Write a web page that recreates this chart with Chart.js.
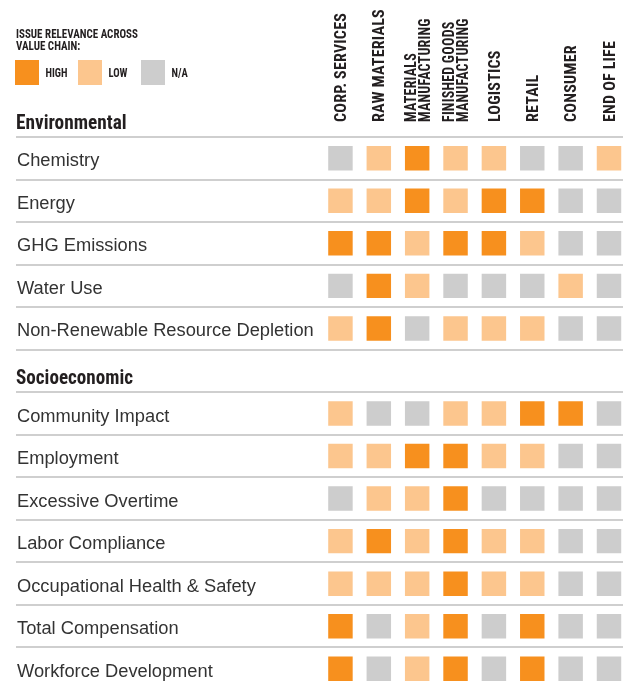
<!DOCTYPE html>
<html>
<head>
<meta charset="utf-8">
<script src="https://cdn.jsdelivr.net/npm/chart.js@4.4.0/dist/chart.umd.min.js"></script>
<style>
  html, body { margin: 0; padding: 0; background: #fff; overflow: hidden; }
  #wrap { position: relative; width: 623px; height: 702px; }
</style>
</head>
<body>
<div id="wrap">
  <canvas id="matrix" width="623" height="702"></canvas>
</div>
<script>
// value chain stages (columns), two-line labels as arrays
const columns = ['CORP. SERVICES', 'RAW MATERIALS', ['MATERIALS', 'MANUFACTURING'], ['FINISHED GOODS', 'MANUFACTURING'], 'LOGISTICS', 'RETAIL', 'CONSUMER', 'END OF LIFE'];

// issues (rows); the socioeconomic header takes a row of its own
const rows = ['Chemistry', 'Energy', 'GHG Emissions', 'Water Use', 'Non-Renewable Resource Depletion', 'Socioeconomic', 'Community Impact', 'Employment', 'Excessive Overtime', 'Labor Compliance', 'Occupational Health & Safety', 'Total Compensation', 'Workforce Development'];
const topSection = 'Environmental';
const headerRow = 'Socioeconomic';

// relevance per stage: H = high, L = low, N = n/a
const chemistry = ['N', 'L', 'H', 'L', 'L', 'N', 'N', 'L'];
const energy = ['L', 'L', 'H', 'L', 'H', 'H', 'N', 'N'];
const ghgEmissions = ['H', 'H', 'L', 'H', 'H', 'L', 'N', 'N'];
const waterUse = ['N', 'H', 'L', 'N', 'N', 'N', 'L', 'N'];
const resourceDepletion = ['L', 'H', 'N', 'L', 'L', 'L', 'N', 'N'];
const communityImpact = ['L', 'N', 'N', 'L', 'L', 'H', 'H', 'N'];
const employment = ['L', 'L', 'H', 'H', 'L', 'L', 'N', 'N'];
const excessiveOvertime = ['N', 'L', 'L', 'H', 'N', 'N', 'N', 'N'];
const laborCompliance = ['L', 'H', 'L', 'H', 'L', 'L', 'N', 'N'];
const healthSafety = ['L', 'L', 'L', 'H', 'L', 'L', 'N', 'N'];
const totalCompensation = ['H', 'N', 'L', 'H', 'N', 'H', 'N', 'N'];
const workforceDevelopment = ['H', 'N', 'L', 'H', 'N', 'H', 'N', 'N'];

const rowValues = {
  'Chemistry': chemistry,
  'Energy': energy,
  'GHG Emissions': ghgEmissions,
  'Water Use': waterUse,
  'Non-Renewable Resource Depletion': resourceDepletion,
  'Community Impact': communityImpact,
  'Employment': employment,
  'Excessive Overtime': excessiveOvertime,
  'Labor Compliance': laborCompliance,
  'Occupational Health & Safety': healthSafety,
  'Total Compensation': totalCompensation,
  'Workforce Development': workforceDevelopment
};

const levels = ['H', 'L', 'N'];
const levelNames = ['HIGH', 'LOW', 'N/A'];
const levelColors = ['#f7901e', '#fcc68e', '#cdcdcd'];
const keyTitle = ['ISSUE RELEVANCE ACROSS', 'VALUE CHAIN:'];

const NARROW = '"Roboto Condensed", "Liberation Sans", sans-serif';
const REGULAR = '"Liberation Sans", Arial, sans-serif';
const INK = '#231f20';

function pointsFor(level) {
  let pts = [];
  rows.forEach(r => {
    let vals = rowValues[r];
    if (!vals) return;
    vals.forEach((v, c) => {
      if (v === level) pts.push({ x: c, y: r });
    });
  });
  return pts;
}

const datasets = levels.map((lv, i) => ({
  label: levelNames[i],
  data: pointsFor(lv),
  backgroundColor: levelColors[i],
  borderWidth: 0,
  pointStyle: 'rect',
  pointRadius: 17.3,
  pointHoverRadius: 17.3
}));

// squeezed bold text, the original uses a condensed gothic
function narrowText(ctx, text, x, y, size, squeeze) {
  ctx.save();
  ctx.font = 'bold ' + size + 'px ' + NARROW;
  ctx.translate(x, y);
  ctx.scale(squeeze, 1);
  ctx.fillText(text, 0, 0);
  ctx.restore();
}

const matrixLabels = {
  id: 'matrixLabels',
  afterDraw(chart) {
    const { ctx } = chart;
    const x = chart.scales.x, y = chart.scales.y;
    const slot = y.height / rows.length;
    ctx.save();
    ctx.fillStyle = INK;
    ctx.textBaseline = 'alphabetic';
    ctx.textAlign = 'left';

    // stage names, vertical, reading upwards
    const size = 16;
    ctx.font = 'bold ' + size + 'px ' + NARROW;
    ctx.letterSpacing = '0.2px';
    columns.forEach((label, i) => {
      const lines = [].concat(label);
      const cx = x.getPixelForValue(i);
      const squeeze = lines.length > 1 ? 0.88 : 1;
      lines.forEach((line, k) => {
        ctx.save();
        ctx.translate(cx + (k - (lines.length - 1) / 2) * 13.5, y.top - 15);
        ctx.rotate(-Math.PI / 2);
        ctx.scale(squeeze, 1);
        ctx.fillText(line, 0, size * 0.711 / 2);
        ctx.restore();
      });
    });
    ctx.letterSpacing = '0px';

    // section headers sit just above their rule
    narrowText(ctx, topSection, 16, y.top - 8, 21, 0.92);
    const h = rows.indexOf(headerRow);
    narrowText(ctx, headerRow, 16, y.getPixelForValue(h) + slot / 2 - 8, 21, 0.91);

    // key
    keyTitle.forEach((t, k) => narrowText(ctx, t, 16, 37.5 + k * 12, 12.5, 0.88));
    levelNames.forEach((name, i) => {
      ctx.fillStyle = levelColors[i];
      ctx.fillRect(15 + i * 63, 60, 24, 25);
      ctx.fillStyle = INK;
      narrowText(ctx, name, 45.5 + i * 63, 77, 12, 0.88);
    });
    ctx.restore();
  }
};

let ctx = document.getElementById('matrix').getContext('2d');
let chart = new Chart(ctx, {
  type: 'scatter',
  data: { datasets: datasets },
  options: {
    responsive: false,
    animation: false,
    layout: { autoPadding: false, padding: { left: 14, right: 0, top: 0, bottom: 0 } },
    plugins: { legend: { display: false }, tooltip: { enabled: false } },
    scales: {
      x: {
        type: 'linear',
        position: 'top',
        min: -8.457,
        max: 7.365,
        afterFit: s => { s.height = 137; },
        grid: { display: false },
        border: { display: false },
        ticks: { display: false }
      },
      y: {
        type: 'category',
        labels: rows,
        offset: true,
        border: { display: false },
        grid: { offset: true, color: '#cfcfcf', lineWidth: 2, drawTicks: false },
        ticks: {
          autoSkip: false,
          mirror: true,
          padding: 1,
          labelOffset: 3,
          color: '#333333',
          font: { family: REGULAR, size: 18.3 },
          callback: (v, i) => rows[i] === headerRow ? '' : rows[i]
        }
      }
    }
  },
  plugins: [matrixLabels]
});
</script>
</body>
</html>
